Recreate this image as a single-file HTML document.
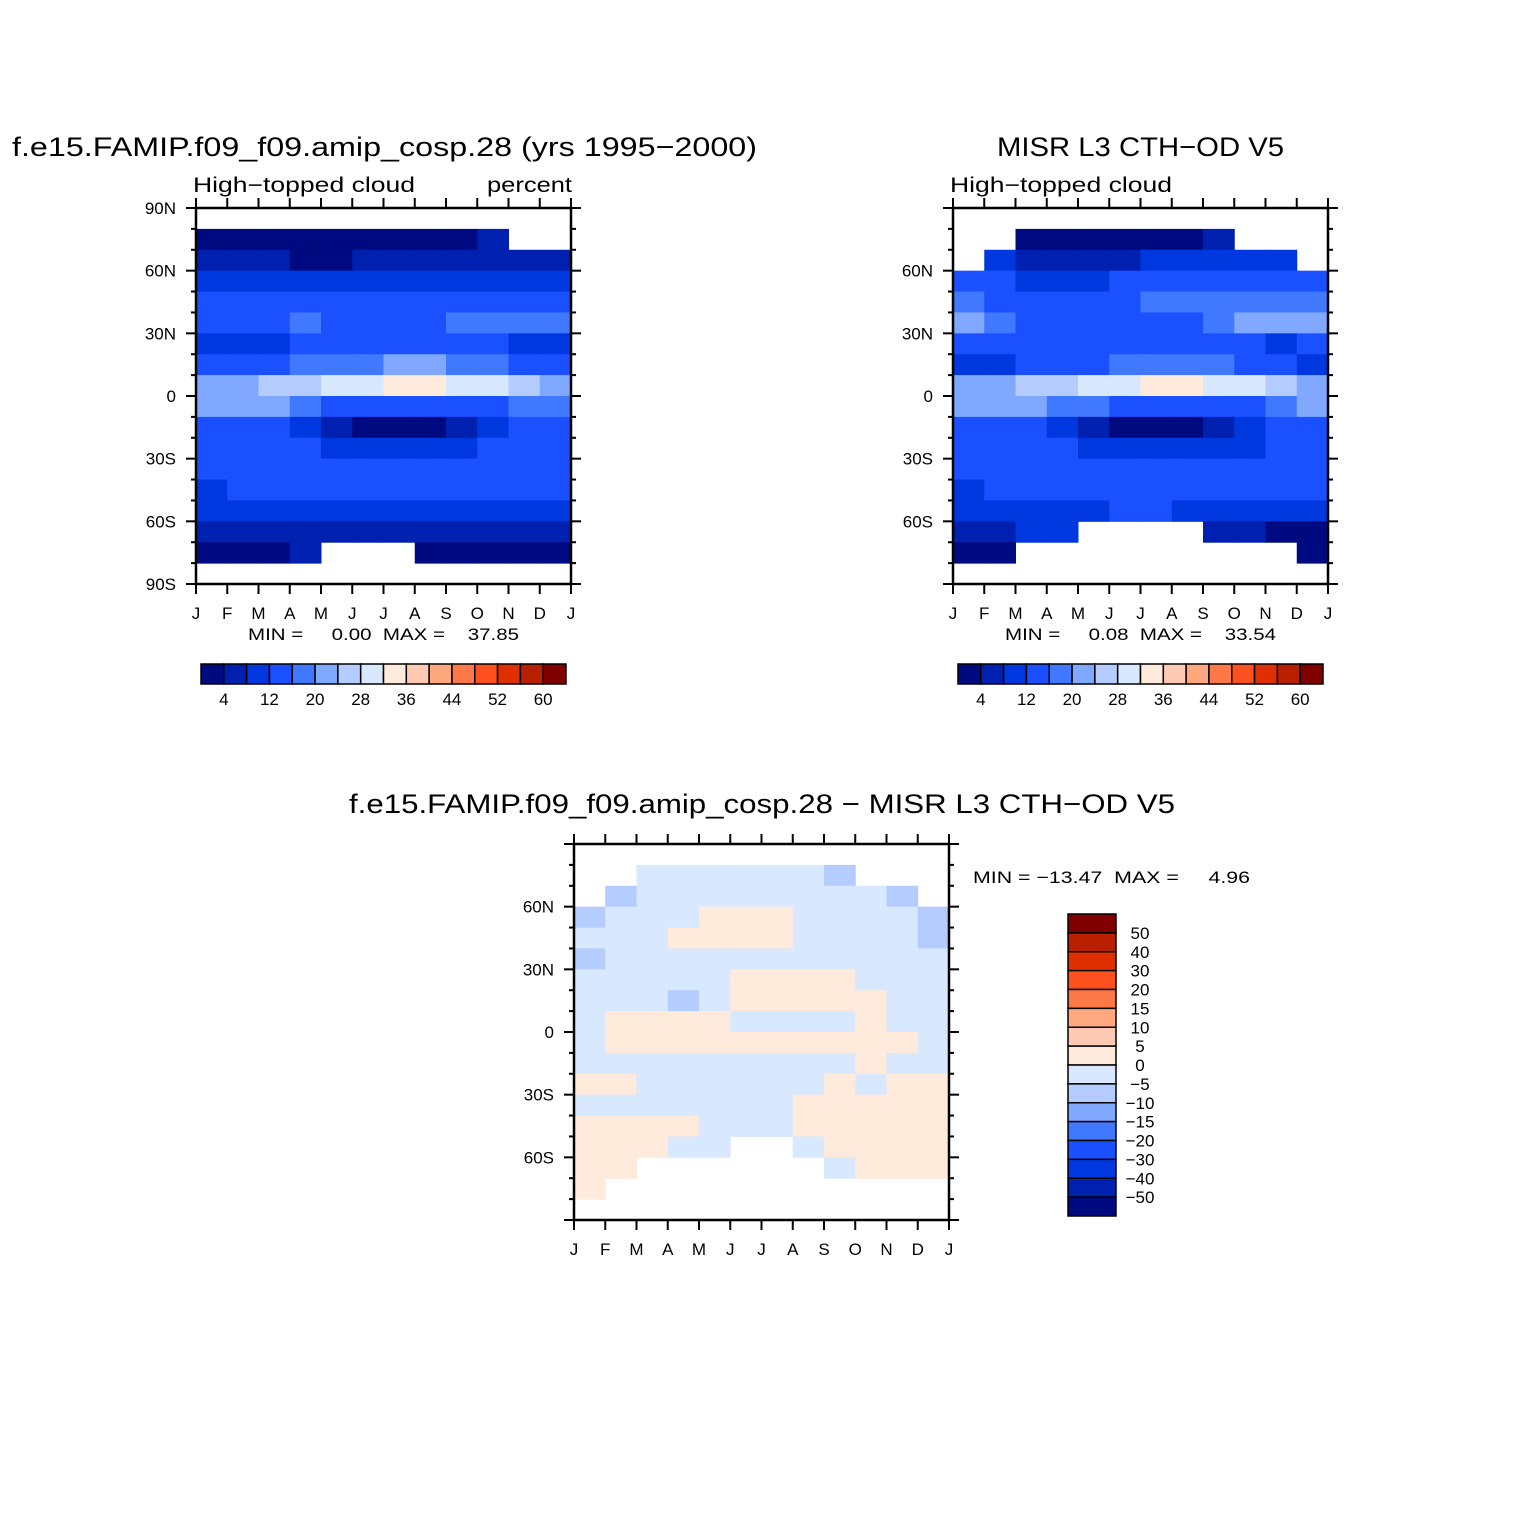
<!DOCTYPE html>
<html><head><meta charset="utf-8"><style>
body{margin:0;background:#fff}
svg text{font-family:"Liberation Sans",sans-serif;fill:#000}
</style></head><body>
<svg id="s" width="1524" height="1524" viewBox="0 0 1524 1524" xmlns="http://www.w3.org/2000/svg">
<rect width="1524" height="1524" fill="#fff"/>
<text x="12" y="156" font-size="27" textLength="745" lengthAdjust="spacingAndGlyphs">f.e15.FAMIP.f09_f09.amip_cosp.28 (yrs 1995−2000)</text>
<text x="193" y="192" font-size="21" textLength="222" lengthAdjust="spacingAndGlyphs">High−topped cloud</text>
<text x="487" y="192" font-size="21" textLength="85" lengthAdjust="spacingAndGlyphs">percent</text>
<text x="997" y="156" font-size="27" textLength="287" lengthAdjust="spacingAndGlyphs">MISR L3 CTH−OD V5</text>
<text x="950" y="192" font-size="21" textLength="222" lengthAdjust="spacingAndGlyphs">High−topped cloud</text>
<text x="349" y="813" font-size="27" textLength="826" lengthAdjust="spacingAndGlyphs">f.e15.FAMIP.f09_f09.amip_cosp.28 − MISR L3 CTH−OD V5</text>
<text x="248" y="640" font-size="17" textLength="271" lengthAdjust="spacingAndGlyphs" xml:space="preserve">MIN =     0.00  MAX =    37.85</text>
<text x="1005" y="640" font-size="17" textLength="271" lengthAdjust="spacingAndGlyphs" xml:space="preserve">MIN =     0.08  MAX =    33.54</text>
<text x="973" y="883" font-size="17" textLength="277" lengthAdjust="spacingAndGlyphs" xml:space="preserve">MIN = −13.47  MAX =     4.96</text>
<g id="g"></g>
</svg>
<script>
const months=["J","F","M","A","M","J","J","A","S","O","N","D","J"];
const latLabels=["90N","60N","30N","0","30S","60S","90S"];
const colors=["#000a80","#0020b0","#0038e0","#1a50ff","#4078ff","#80a8ff","#b4ccff","#d8e8ff","#ffeadc","#ffcab4","#ffa880","#ff7848","#ff5020","#e03000","#b82000","#800000"];
const absLevels=[4,8,12,16,20,24,28,32,36,40,44,48,52,56,60];
const absTickLabels=["4","12","20","28","36","44","52","60"];
const diffLevels=[-50,-40,-30,-20,-15,-10,-5,0,5,10,15,20,30,40,50];
const diffTickLabels=["50","40","30","20","15","10","5","0","−5","−10","−15","−20","−30","−40","−50"];
const N=null;
const modelData=[
[N,N,N,N,N,N,N,N,N,N,N,N],
[2,2,2,2,3,3,3,3,3,5,N,N],
[6,6,5,3,3,6,6,6,6,6,7,7],
[10,10,10,9,10,10,10,10,10,10,10,10],
[14,14,14,14,14,14,14,14,14,14,14,14],
[15,15,14,18,15,15,14,15,19,19,18,16],
[9,9,10,12,13,13,14,14,13,12,11,10],
[14,13,15,16,18,19,20,20,19,18,15,14],
[20,22,24,26,29,31,32,32,31,29,26,22],
[20,22,20,18,14,13,13,13,13,14,16,18],
[14,13,12,9,6,3,3,3,5,9,12,14],
[14,14,14,13,11,9,9,9,10,12,14,14],
[12,14,14,14,14,14,14,14,14,14,14,14],
[11,12,14,13,13,13,13,13,13,12,12,12],
[10,10,10,10,10,10,10,10,10,10,10,10],
[6,6,6,6,6,6,6,6,6,6,6,6],
[3,3,3,6,N,N,N,3,3,3,3,3],
[N,N,N,N,N,N,N,N,N,N,N,N]];
const obsData=[
[N,N,N,N,N,N,N,N,N,N,N,N],
[N,N,3,3,3,3,3,3,6,N,N,N],
[N,9,6,5,5,6,8,8,9,10,10,N],
[12,12,10,9,10,12,12,12,13,14,14,13],
[16,15,14,14,14,15,16,17,18,18,17,16],
[20,18,15,14,15,15,14,15,19,22,22,21],
[12,12,13,14,14,14,14,14,14,13,11,12],
[8,10,13,14,15,16,17,17,16,14,13,10],
[20,22,24,26,29,31,32,32,31,29,26,22],
[22,22,21,19,16,14,14,14,14,15,18,22],
[14,13,12,9,6,3,3,3,6,10,12,14],
[13,12,12,12,11,10,10,10,10,11,12,13],
[12,14,14,14,14,14,14,14,14,14,14,14],
[11,12,13,14,14,14,14,14,13,12,12,12],
[8,8,9,9,10,12,12,10,8,8,8,8],
[4,6,8,8,N,N,N,N,6,4,3,3],
[3,3,N,N,N,N,N,N,N,N,N,3],
[N,N,N,N,N,N,N,N,N,N,N,N]];
const diffData=[
[N,N,N,N,N,N,N,N,N,N,N,N],
[N,N,-2,-2,-2,-2,-2,-2,-6,N,N,N],
[N,-6,-2,-2,-2,-2,-2,-2,-2,-2,-6,N],
[-6,-2,-2,-2,2,2,2,-2,-2,-2,-2,-6],
[-2,-2,-2,2,2,2,2,-2,-2,-2,-2,-6],
[-6,-2,-2,-2,-2,-2,-2,-2,-2,-2,-2,-2],
[-2,-2,-2,-2,-2,2,2,2,2,-2,-2,-2],
[-2,-2,-2,-6,-2,2,2,2,2,2,-2,-2],
[-2,2,2,2,2,-2,-2,-2,-2,2,-2,-2],
[-2,2,2,2,2,2,2,2,2,2,2,-2],
[-2,-2,-2,-2,-2,-2,-2,-2,-2,2,-2,-2],
[2,2,-2,-2,-2,-2,-2,-2,2,-2,2,2],
[-2,-2,-2,-2,-2,-2,-2,2,2,2,2,2],
[2,2,2,2,-2,-2,-2,2,2,2,2,2],
[2,2,2,-2,-2,N,N,-2,2,2,2,2],
[2,2,N,N,N,N,N,N,-2,2,2,2],
[2,N,N,N,N,N,N,N,N,N,N,N],
[N,N,N,N,N,N,N,N,N,N,N,N]];

const NS="http://www.w3.org/2000/svg";
const G=document.getElementById('g');
function mk(tag,attrs,parent){const e=document.createElementNS(NS,tag);for(const k in attrs)e.setAttribute(k,attrs[k]);(parent||G).appendChild(e);return e;}
function colorFor(v,levels){let i=0;while(i<levels.length&&v>=levels[i])i++;return colors[i];}

function panel(name,x0,y0,data,levels,showPoles){
  const W=375,H=376;
  const g=mk('g',{});
  
  
  const xs=m=>x0+m*W/12;
  const ys=lat=>y0+(90-lat)*H/180;
  data.forEach((row,r)=>{row.forEach((v,c)=>{
    if(v===null)return;
    const latTop=90-r*10;
    const rc=mk('rect',{x:xs(c),y:ys(latTop),width:W/12+0.5,height:ys(latTop-10)-ys(latTop)+0.5,fill:colorFor(v,levels)},g);
    
    
  });});
  const fr=mk('rect',{x:x0,y:y0,width:W,height:H,fill:'none',stroke:'#000','stroke-width':2.5},g);
  
  
  for(let lat=-90;lat<=90;lat+=10){
    const y=ys(lat),maj=lat%30===0;
    mk('line',{x1:x0-(maj?10:5),x2:x0,y1:y,y2:y,stroke:'#000','stroke-width':2},g);
    mk('line',{x1:x0+W,x2:x0+W+(maj?10:5),y1:y,y2:y,stroke:'#000','stroke-width':2},g);
    if(maj){
      const lbl=latLabels[(90-lat)/30];
      if(!showPoles&&Math.abs(lat)===90)continue;
      const t=mk('text',{x:x0-20,y:y+6,'font-size':17,'text-anchor':'end'},g);
      t.textContent=lbl;
      
      
    }
  }
  for(let m=0;m<=12;m++){
    const x=xs(m);
    mk('line',{x1:x,x2:x,y1:y0,y2:y0-10,stroke:'#000','stroke-width':2},g);
    mk('line',{x1:x,x2:x,y1:y0+H,y2:y0+H+10,stroke:'#000','stroke-width':2},g);
    const t=mk('text',{x:x,y:y0+H+35,'font-size':17,'text-anchor':'middle'},g);
    t.textContent=months[m];
    
    
  }
}
function hbar(name,x0,y0){
  const g=mk('g',{});
  
  
  const bw=365/16;
  colors.forEach((c,i)=>{
    const r=mk('rect',{x:x0+i*bw,y:y0,width:bw,height:20,fill:c,stroke:'#000','stroke-width':1.5},g);
    
    
  });
  absTickLabels.forEach((l,i)=>{
    const t=mk('text',{x:x0+(1+2*i)*bw,y:y0+41,'font-size':17,'text-anchor':'middle'},g);
    t.textContent=l;
    
    
  });
}
function vbar(name,x0,y0){
  const g=mk('g',{});
  
  
  const bh=302/16;
  colors.slice().reverse().forEach((c,i)=>{
    const r=mk('rect',{x:x0,y:y0+i*bh,width:48,height:bh,fill:c,stroke:'#000','stroke-width':1.5},g);
    
    
  });
  diffTickLabels.forEach((l,i)=>{
    const t=mk('text',{x:x0+72,y:y0+(i+1)*bh+6,'font-size':17,'text-anchor':'middle'},g);
    t.textContent=l;
    
    
  });
}
panel('model-panel',196,208,modelData,absLevels,true);
panel('obs-panel',953,208,obsData,absLevels,false);
panel('diff-panel',574,844,diffData,diffLevels,false);
hbar('model-colorbar',201,664);
hbar('obs-colorbar',958,664);
vbar('diff-colorbar',1068,914);
</script>
</body></html>
